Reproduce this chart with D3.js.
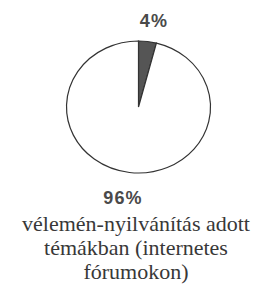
<!doctype html>
<html>
<head>
	<meta charset="utf-8">
	<script src="https://d3js.org/d3.v7.min.js"></script>
	<style>
		body { margin:0; background:#fff; }
		.pct { font-family: 'Liberation Sans', Arial, sans-serif; font-weight:bold; fill:#4a4a4a; }
		.lbl { font-family: 'Liberation Serif', serif; fill:#383838; }
	</style>
</head>
<body>
<script>
	var categories = ["egyéb", "vélemén-nyilvánítás adott témákban (internetes fórumokon)"]
	var values = [4, 96]
	var pctLabels = ["4%", "96%"]
	var captionLines = ["vélemén-nyilvánítás adott", "témákban (internetes", "fórumokon)"]

	var width = 266, height = 295
	var cx = 138.5, cy = 107, rx = 72, ry = 66

	var svg = d3.select("body").append("svg")
		.attr("width", width)
		.attr("height", height)

	var pie = d3.pie().sort(null).value(function(d){ return d })
	var arc = d3.arc().innerRadius(0).outerRadius(rx)

	var g = svg.append("g")
		.attr("transform", "translate(" + cx + "," + cy + ") scale(1," + (ry/rx) + ")")

	g.selectAll("path")
		.data(pie(values))
		.enter()
		.append("path")
		.attr("d", arc)
		.attr("fill", function(d,i){ return i == 0 ? "#555" : "#fff" })
		.attr("stroke", "#333")
		.attr("stroke-width", 1.2)
		.attr("vector-effect", "non-scaling-stroke")

	svg.append("text").attr("class","pct")
		.attr("x", 154).attr("y", 27)
		.attr("text-anchor","middle")
		.attr("font-size", 18)
		.attr("letter-spacing", 1.2)
		.text(pctLabels[0])

	svg.append("text").attr("class","pct")
		.attr("x", 123).attr("y", 204)
		.attr("text-anchor","middle")
		.attr("font-size", 18)
		.attr("letter-spacing", 1.2)
		.text(pctLabels[1])

	svg.selectAll("text.lbl")
		.data(captionLines)
		.enter()
		.append("text")
		.attr("class","lbl")
		.attr("x", 136)
		.attr("y", function(d,i){ return 231 + i*24 })
		.attr("text-anchor","middle")
		.attr("font-size", 22)
		.text(function(d){ return d })
</script>
</body>
</html>
